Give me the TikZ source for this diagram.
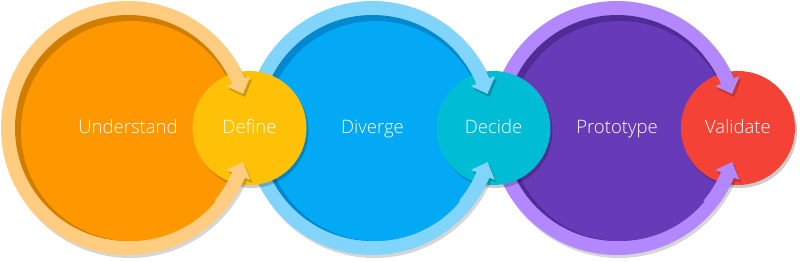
\documentclass[tikz,border=0pt]{standalone}
\usepackage{fontspec}
\newfontfamily\lblfont{Open Sans}[UprightFont=* Light]
\usetikzlibrary{calc}
\definecolor{orRing}{HTML}{FFCC80}
\definecolor{orDisc}{HTML}{FF9800}
\definecolor{orDark}{HTML}{D17D00}
\definecolor{blRing}{HTML}{81D4FA}
\definecolor{blDisc}{HTML}{03A9F4}
\definecolor{blDark}{HTML}{0288CF}
\definecolor{puRing}{HTML}{B388FF}
\definecolor{puDisc}{HTML}{673AB7}
\definecolor{puDark}{HTML}{502C97}
\definecolor{amber}{HTML}{FFC107}
\definecolor{cyanc}{HTML}{00BCD4}
\definecolor{redc}{HTML}{F44336}
\definecolor{shadowgrey}{HTML}{D6D6D6}
% arrow shape along a ring: #1 centre, #2 sign (1 top, -1 bottom), #3 fill style, #4 offset
\newcommand\ringarrow[4]{%
  \fill[#3] ($(#1)+(#4)+(#2*40:127)$) arc[start angle=#2*40, end angle=#2*23, radius=127]
    -- ($(#1)+(#4)+(#2*23:133)$) -- ($(#1)+(#4)+(#2*16.5:120)$) -- ($(#1)+(#4)+(#2*23:107)$)
    -- ($(#1)+(#4)+(#2*23:113)$) arc[start angle=#2*23, end angle=#2*40, radius=113] -- cycle;}
\begin{document}
\begin{tikzpicture}[x=1pt,y=1pt,
  lbl/.style={text=white, font=\lblfont\fontsize{18.5}{20}\selectfont, inner sep=0pt, anchor=base},
  bigshadow/.style={fill=shadowgrey},
  smallshadow/.style={fill=black, opacity=0.2}]
\useasboundingbox (0,0) rectangle (800,262);
\coordinate (b1) at (128,134);
\coordinate (b2) at (372.5,134);
\coordinate (b3) at (617,134);
\coordinate (s1) at (249.5,134);
\coordinate (s2) at (493.5,134);
\coordinate (s3) at (738,134);
% shadows of the big rings
\foreach \c in {b1,b2,b3}{\fill[bigshadow] ($(\c)+(2,-3)$) circle[radius=127];}
% big circles
\foreach \c/\r/\d/\k in {b1/orRing/orDisc/orDark, b2/blRing/blDisc/blDark, b3/puRing/puDisc/puDark}{
  \fill[\r] (\c) circle[radius=127];
  \fill[\k] (\c) circle[radius=113];
  \fill[\d] ($(\c)+(3,-3)$) circle[radius=110];
}
% small circles
\foreach \c/\f in {s1/amber, s2/cyanc, s3/redc}{
  \fill[smallshadow] ($(\c)+(2,-3)$) circle[radius=57];
  \fill[\f] (\c) circle[radius=57];
}
% arrow shadows on the small circles
\foreach \b/\s in {b1/s1, b2/s2, b3/s3}{
  \begin{scope}
    \clip (\s) circle[radius=57];
    \ringarrow{\b}{1}{black, opacity=0.2}{2,-3}
    \ringarrow{\b}{-1}{black, opacity=0.2}{2,-3}
  \end{scope}
}
% arrows
\foreach \b/\r in {b1/orRing, b2/blRing, b3/puRing}{
  \ringarrow{\b}{1}{\r}{0,0}
  \ringarrow{\b}{-1}{\r}{0,0}
}
% labels
\node[lbl] (understand) at ($(b1)+(0,-6)$) {Understand};
\node[lbl] (diverge) at ($(b2)+(0,-6)$) {Diverge};
\node[lbl] (prototype) at ($(b3)+(0,-6)$) {Prototype};
\node[lbl] (define) at ($(s1)+(0,-6)$) {Define};
\node[lbl] (decide) at ($(s2)+(0,-6)$) {Decide};
\node[lbl] (validate) at ($(s3)+(0,-6)$) {Validate};
\end{tikzpicture}
\end{document}
